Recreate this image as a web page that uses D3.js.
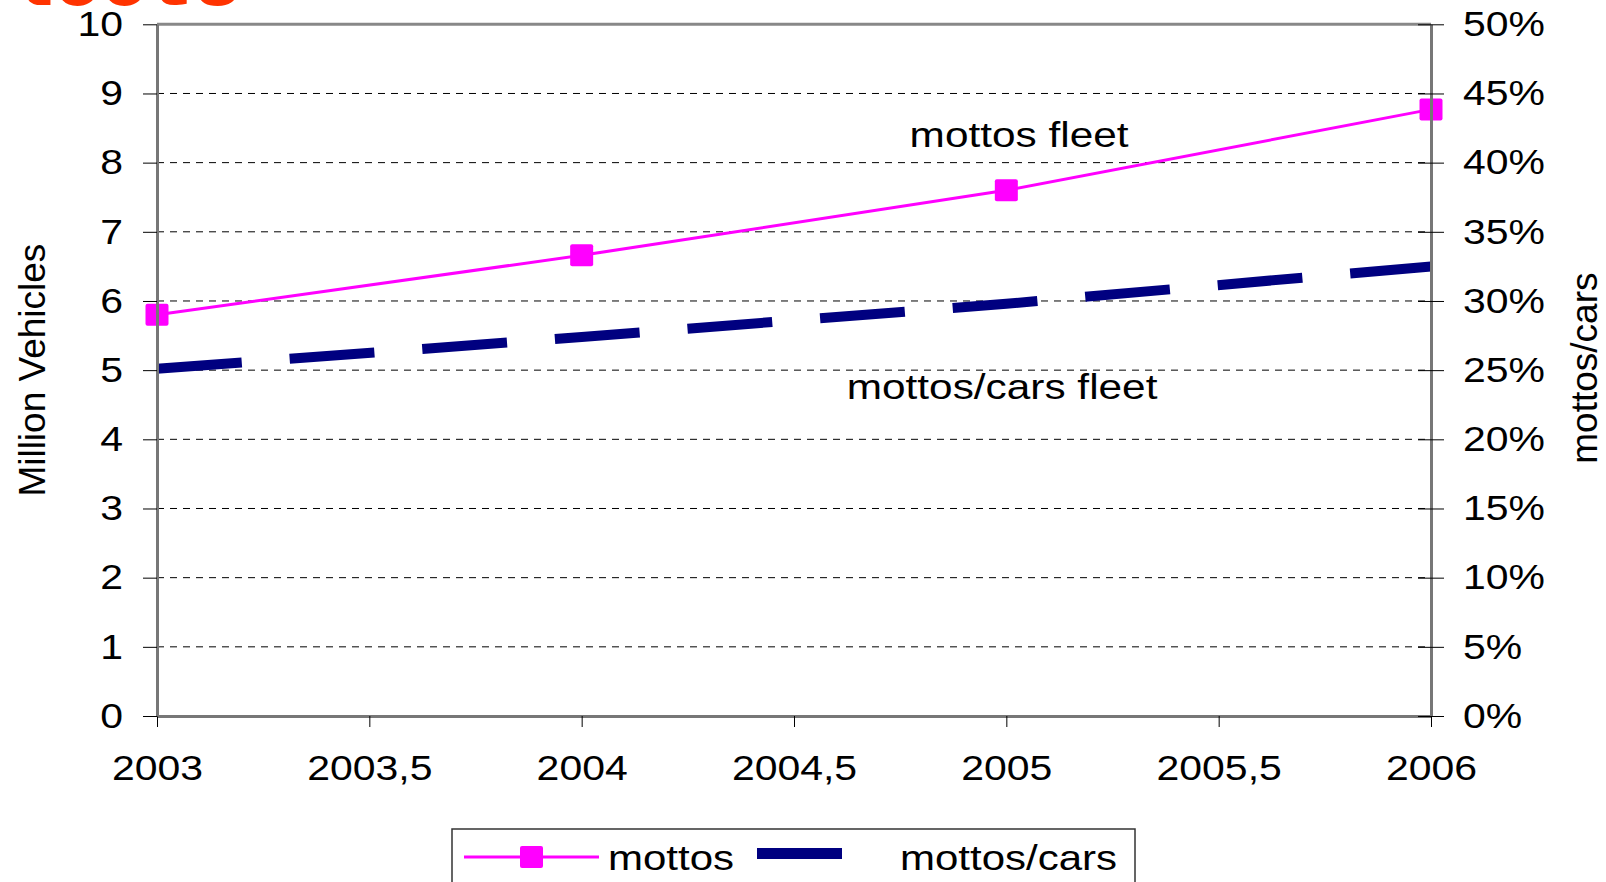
<!DOCTYPE html>
<html>
<head>
    <meta charset="utf-8">
    <style>
        body { margin: 0; background: white; }
        svg { display: block; font-family: 'Liberation Sans', Arial, sans-serif; }
        .axis text { font-size: 35px; fill: #000; }
        .axis line { stroke: #000; stroke-width: 1; }
        .axis path { stroke: #777; stroke-width: 3; }
    </style>
</head>
<body>
<svg width="1606" height="882"></svg>

<script src="https://d3js.org/d3.v7.min.js"></script>
<script>
    // data
    let years = [2003, 2004, 2005, 2006]
    let mottos = [5.8, 6.66, 7.6, 8.77]          // million vehicles
    let ratio = [25.1, 27.4, 29.8, 32.5]          // mottos/cars, %

    let xTicks = [2003, 2003.5, 2004, 2004.5, 2005, 2005.5, 2006]
    let xTickLabels = ["2003", "2003,5", "2004", "2004,5", "2005", "2005,5", "2006"]
    let yTicks = [0, 1, 2, 3, 4, 5, 6, 7, 8, 9, 10]
    let rightTicks = [0, 5, 10, 15, 20, 25, 30, 35, 40, 45, 50]

    let annotations = [
        { text: "mottos fleet", year: 2005.03, value: 8.22 },
        { text: "mottos/cars fleet", year: 2004.99, value: 4.58 }
    ]

    let width = 1606
    let height = 882
    let margin = { top: 24.3, right: 175, bottom: 166, left: 157 }
    let stretchK = 1.17

    let svg = d3.select("svg")

    let x = d3.scaleLinear()
        .domain([2003, 2006])
        .range([margin.left, width - margin.right])

    let y = d3.scaleLinear()
        .domain([0, 10])
        .range([height - margin.bottom, margin.top])

    let yRight = d3.scaleLinear()
        .domain([0, 50])
        .range([height - margin.bottom, margin.top])

    // widen horizontal text like the original
    function stretch(sel, k) {
        sel.each(function () {
            let w = this.getComputedTextLength()
            d3.select(this)
                .attr("textLength", w * k)
                .attr("lengthAdjust", "spacingAndGlyphs")
        })
    }

    // cut-off title at the top
    svg.append("text")
        .attr("x", -40)
        .attr("y", 5)
        .style("font-family", "'Liberation Mono', 'Courier New', monospace")
        .style("font-weight", "bold")
        .style("font-size", "78px")
        .style("fill", "#FF3300")
        .text("Fleets")

    // dashed grid
    svg.append("g")
        .selectAll("line")
        .data(yTicks.filter(d => d > 0 && d < 10))
        .join("line")
        .attr("x1", x(2003))
        .attr("x2", x(2006))
        .attr("y1", d => y(d))
        .attr("y2", d => y(d))
        .style("stroke", "#000")
        .style("stroke-width", 1)
        .style("stroke-dasharray", "7,6")

    // top frame
    svg.append("line")
        .attr("x1", x(2003))
        .attr("x2", x(2006))
        .attr("y1", y(10))
        .attr("y2", y(10))
        .style("stroke", "#888")
        .style("stroke-width", 3)

    // ratio line (dashed, navy)
    let lineRatio = d3.line()
        .x((d, i) => x(years[i]))
        .y(d => yRight(d))

    svg.append("path")
        .datum(ratio)
        .attr("d", lineRatio)
        .style("fill", "none")
        .style("stroke", "#000080")
        .style("stroke-width", 10)
        .style("stroke-dasharray", "85,48")

    // mottos line
    let lineMottos = d3.line()
        .x((d, i) => x(years[i]))
        .y(d => y(d))

    svg.append("path")
        .datum(mottos)
        .attr("d", lineMottos)
        .style("fill", "none")
        .style("stroke", "#FF00FF")
        .style("stroke-width", 3)

    svg.append("g")
        .selectAll("rect")
        .data(mottos)
        .join("rect")
        .attr("x", (d, i) => x(years[i]) - 11.5)
        .attr("y", d => y(d) - 11)
        .attr("width", 23)
        .attr("height", 22)
        .attr("rx", 2)
        .style("fill", "#FF00FF")

    // axes
    let xAxis = svg.append("g")
        .attr("class", "axis")
        .attr("transform", `translate(0,${height - margin.bottom})`)
        .call(d3.axisBottom(x)
            .tickValues(xTicks)
            .tickFormat((d, i) => xTickLabels[i])
            .tickSize(11)
            .tickSizeOuter(0)
            .tickPadding(28))
    xAxis.selectAll("text").call(stretch, stretchK)

    let leftAxis = svg.append("g")
        .attr("class", "axis")
        .attr("transform", `translate(${margin.left},0)`)
        .call(d3.axisLeft(y)
            .tickValues(yTicks)
            .tickSize(14)
            .tickSizeOuter(0)
            .tickPadding(20))
    leftAxis.selectAll("text").call(stretch, stretchK)

    let rightAxis = svg.append("g")
        .attr("class", "axis")
        .attr("transform", `translate(${width - margin.right},0)`)
        .call(d3.axisRight(yRight)
            .tickValues(rightTicks)
            .tickFormat(d => d + "%")
            .tickSize(13)
            .tickSizeOuter(0)
            .tickPadding(19))
    rightAxis.selectAll(".tick line").attr("x1", -13)
    rightAxis.selectAll("text").call(stretch, stretchK)

    // axis titles
    svg.append("text")
        .attr("transform", `translate(45,${(y(0) + y(10)) / 2}) rotate(-90)`)
        .attr("text-anchor", "middle")
        .style("font-size", "37px")
        .text("Million Vehicles")

    svg.append("text")
        .attr("transform", `translate(1597,${(y(0) + y(10)) / 2 - 2}) rotate(-90)`)
        .attr("text-anchor", "middle")
        .style("font-size", "37px")
        .text("mottos/cars")

    // in-chart labels
    svg.append("g")
        .selectAll("text")
        .data(annotations)
        .join("text")
        .attr("x", d => x(d.year))
        .attr("y", d => y(d.value))
        .attr("text-anchor", "middle")
        .style("font-size", "35px")
        .text(d => d.text)
        .call(stretch, 1.21)

    // legend
    let legend = svg.append("g")

    legend.append("rect")
        .attr("x", 452)
        .attr("y", 829)
        .attr("width", 683)
        .attr("height", 80)
        .style("fill", "white")
        .style("stroke", "#333")
        .style("stroke-width", 1.5)

    legend.append("line")
        .attr("x1", 464)
        .attr("x2", 599)
        .attr("y1", 857)
        .attr("y2", 857)
        .style("stroke", "#FF00FF")
        .style("stroke-width", 3)

    legend.append("rect")
        .attr("x", 520)
        .attr("y", 846)
        .attr("width", 23)
        .attr("height", 22)
        .attr("rx", 2)
        .style("fill", "#FF00FF")

    legend.append("text")
        .attr("x", 608)
        .attr("y", 870)
        .style("font-size", "35px")
        .text("mottos")
        .call(stretch, 1.2)

    legend.append("line")
        .attr("x1", 757)
        .attr("x2", 842)
        .attr("y1", 853.5)
        .attr("y2", 853.5)
        .style("stroke", "#000080")
        .style("stroke-width", 11)

    legend.append("text")
        .attr("x", 900)
        .attr("y", 870)
        .style("font-size", "35px")
        .text("mottos/cars")
        .call(stretch, 1.2)
</script>
</body>
</html>
